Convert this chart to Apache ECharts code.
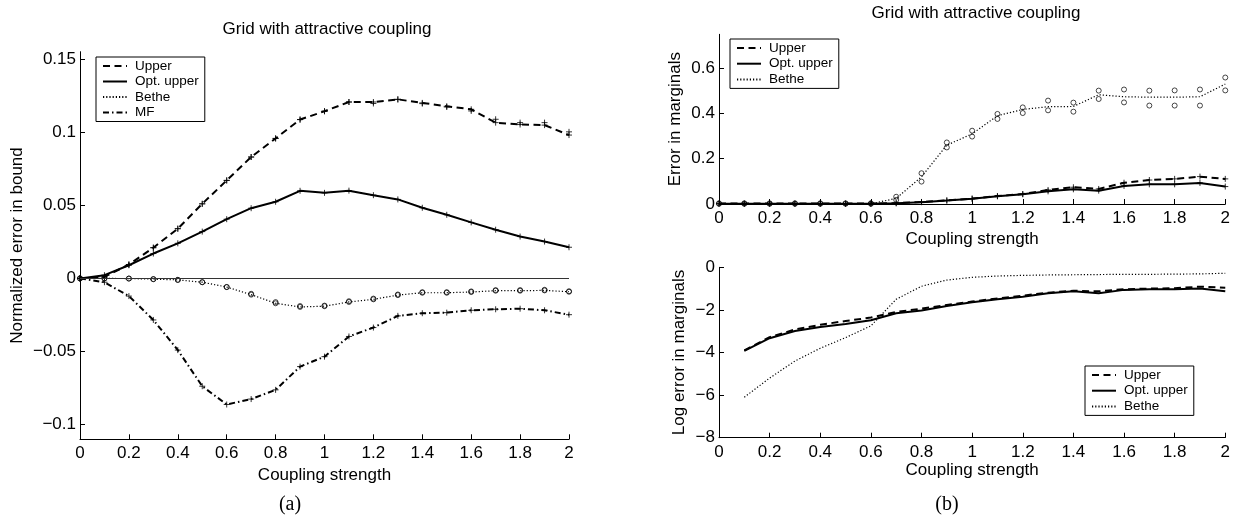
<!DOCTYPE html>
<html>
<head>
<meta charset="utf-8">
<script src="https://cdn.jsdelivr.net/npm/echarts@6/dist/echarts.min.js"></script>
<style>
html,body{margin:0;padding:0;background:#fff;}
#chart{width:1233px;height:523px;}
</style>
</head>
<body>
<div id="chart"></div>
<script>
// ---------- data ----------
var couplings = [0,0.1,0.2,0.3,0.4,0.5,0.6,0.7,0.8,0.9,1.0,1.1,1.2,1.3,1.4,1.5,1.6,1.7,1.8,1.9,2.0];
var couplingsLog = [0.1,0.2,0.3,0.4,0.5,0.6,0.7,0.8,0.9,1.0,1.1,1.2,1.3,1.4,1.5,1.6,1.7,1.8,1.9,2.0];

// (a) normalized error in bound
var aUpper = [0,0.001,0.0095,0.021,0.034,0.051,0.067,0.083,0.0957,0.1086,0.1143,0.1206,0.1206,0.1224,0.12,0.1177,0.1156,0.1065,0.1052,0.1048,0.098];
var aUpperRunB = [0,0.001,0.0095,0.021,0.034,0.051,0.067,0.083,0.0957,0.1086,0.1143,0.1206,0.1196,0.1224,0.1195,0.1172,0.1145,0.1088,0.1065,0.1065,0.1002];
var aOptUpper = [0,0.0022,0.009,0.017,0.024,0.032,0.0405,0.048,0.0524,0.0599,0.0585,0.06,0.0569,0.054,0.0483,0.0435,0.0383,0.0333,0.0286,0.0252,0.0213];
var aBethe = [0,0,-0.0001,-0.0005,-0.001,-0.0026,-0.0059,-0.0111,-0.017,-0.0195,-0.019,-0.0161,-0.0143,-0.0114,-0.0098,-0.0098,-0.0093,-0.0084,-0.0084,-0.0082,-0.0091];
var aBetheRunB = [0,0,-0.0001,-0.0005,-0.001,-0.0026,-0.0059,-0.0105,-0.0162,-0.0189,-0.0186,-0.0156,-0.0138,-0.0110,-0.0094,-0.0094,-0.0089,-0.0080,-0.0080,-0.0078,-0.0088];
var aMF = [0,-0.0026,-0.0121,-0.0284,-0.049,-0.0737,-0.0862,-0.0825,-0.0762,-0.0603,-0.0535,-0.0397,-0.0336,-0.0256,-0.0238,-0.0234,-0.0218,-0.0211,-0.0207,-0.0218,-0.0248];

// (b) top: error in marginals
var bUpper = [0.002,0.002,0.002,0.002,0.002,0.002,0.002,0.004,0.009,0.016,0.024,0.035,0.044,0.062,0.074,0.0665,0.094,0.106,0.111,0.121,0.111];
var bOptUpper = [0.001,0.001,0.001,0.001,0.001,0.001,0.001,0.003,0.008,0.015,0.023,0.034,0.043,0.056,0.065,0.059,0.08,0.087,0.087,0.093,0.077];
var bBethe = [0.001,0.001,0.001,0.001,0.001,0.001,0.001,0.025,0.12,0.26,0.31,0.39,0.418,0.43,0.431,0.483,0.474,0.472,0.472,0.474,0.53];
var bBetheRunA = [0.003,0.003,0.003,0.003,0.003,0.003,0.003,0.032,0.136,0.272,0.324,0.398,0.427,0.457,0.448,0.501,0.506,0.501,0.502,0.506,0.559];
var bBetheRunB = [0.001,0.001,0.001,0.001,0.001,0.001,0.001,0.018,0.099,0.25,0.298,0.376,0.402,0.414,0.408,0.464,0.449,0.435,0.435,0.435,0.502];

// (b) bottom: log error in marginals
var cUpper = [-3.9,-3.28,-2.92,-2.7,-2.52,-2.36,-2.1,-1.94,-1.77,-1.61,-1.46,-1.33,-1.19,-1.1,-1.13,-1.03,-1.0,-0.98,-0.91,-0.96];
var cOptUpper = [-3.92,-3.33,-2.99,-2.8,-2.66,-2.49,-2.16,-2.03,-1.82,-1.64,-1.5,-1.38,-1.22,-1.13,-1.22,-1.06,-1.03,-1.03,-1.0,-1.13];
var cBethe = [-6.1,-5.2,-4.4,-3.8,-3.3,-2.75,-1.5,-0.89,-0.6,-0.47,-0.41,-0.38,-0.36,-0.35,-0.34,-0.33,-0.33,-0.32,-0.31,-0.28];

var xTicks = [0,0.2,0.4,0.6,0.8,1,1.2,1.4,1.6,1.8,2];
var aYTicks = [-0.1,-0.05,0,0.05,0.1,0.15];
var bYTicks = [0,0.2,0.4,0.6];
var cYTicks = [-8,-6,-4,-2,0];

// ---------- helpers ----------
var FONT = 'Liberation Sans, Arial, Helvetica, sans-serif';
var PLUS = 'path://M0,5L10,5M5,0L5,10';
function pairs(xs, ys){ return ys.map(function(y,i){ return [xs[i], y]; }); }
function minusFmt(v){ return String(v).replace('-', '\u2212'); }

function xAxis(gi, nameGap){
  return {
    type:'value', gridIndex:gi, min:0, max:2, interval:0.2,
    name:'Coupling strength', nameLocation:'middle', nameGap:nameGap,
    nameTextStyle:{color:'#000', fontSize:17, fontFamily:FONT},
    axisLine:{show:true, onZero:false, lineStyle:{color:'#000', width:1}},
    axisTick:{show:true, inside:true, length:5, lineStyle:{color:'#000'}},
    axisLabel:{color:'#000', fontSize:17, fontFamily:FONT, margin:6, formatter:minusFmt},
    splitLine:{show:false}
  };
}
function yAxis(gi, min, max, ticks, name, nameGap){
  return {
    type:'value', gridIndex:gi, min:min, max:max,
    name:name, nameLocation:'middle', nameGap:nameGap,
    nameTextStyle:{color:'#000', fontSize:17, fontFamily:FONT},
    axisLine:{show:true, onZero:false, lineStyle:{color:'#000', width:1}},
    axisTick:{show:true, inside:true, length:5, lineStyle:{color:'#000'}, customValues:ticks},
    axisLabel:{color:'#000', fontSize:17, fontFamily:FONT, margin:4, formatter:minusFmt, customValues:ticks},
    splitLine:{show:false}
  };
}
function lineS(name, gi, xs, ys, type, width){
  return {
    type:'line', name:name, xAxisIndex:gi, yAxisIndex:gi, data:pairs(xs, ys),
    symbol:'none', smooth:false, z:3,
    lineStyle:{color:'#000', width:width, type:type},
    itemStyle:{color:'#000'}
  };
}
function markS(name, gi, xs, ys, symbol, size){
  return {
    type:'scatter', name:name, xAxisIndex:gi, yAxisIndex:gi, data:pairs(xs, ys),
    symbol:symbol, symbolSize:size, z:4, silent:true,
    itemStyle:{color:'transparent', borderColor:'#000', borderWidth:symbol === PLUS ? 1 : 0.9}
  };
}

var DASH = [7,4.5];
var DOT = [1.2,2];
var DASHDOT = [6,3,1.5,3];

var upperA = lineS('Upper',0,couplings,aUpper,DASH,2);
upperA.markLine = {silent:true, symbol:'none', label:{show:false},
  lineStyle:{color:'#333', width:1, type:'solid'}, data:[{yAxis:0}]};

var series = [
  upperA,
  lineS('Opt. upper',0,couplings,aOptUpper,'solid',2),
  lineS('Bethe',0,couplings,aBethe,DOT,1.2),
  lineS('MF',0,couplings,aMF,DASHDOT,2),
  markS('Upper runs',0,couplings,aUpper,PLUS,6),
  markS('Upper runs B',0,couplings,aUpperRunB,PLUS,6),
  markS('Opt. upper runs',0,couplings,aOptUpper,PLUS,6),
  markS('Bethe runs',0,couplings,aBethe,'circle',5),
  markS('Bethe runs B',0,couplings,aBetheRunB,'circle',5),
  markS('MF runs',0,couplings,aMF,PLUS,6),

  lineS('Upper',1,couplings,bUpper,DASH,2),
  lineS('Opt. upper',1,couplings,bOptUpper,'solid',2),
  lineS('Bethe',1,couplings,bBethe,DOT,1.2),
  markS('Upper runs (b)',1,couplings,bUpper,PLUS,6),
  markS('Opt. upper runs (b)',1,couplings,bOptUpper,PLUS,6),
  markS('Bethe runs A (b)',1,couplings,bBetheRunA,'circle',5),
  markS('Bethe runs B (b)',1,couplings,bBetheRunB,'circle',5),

  lineS('Upper',2,couplingsLog,cUpper,DASH,2),
  lineS('Opt. upper',2,couplingsLog,cOptUpper,'solid',2),
  lineS('Bethe',2,couplingsLog,cBethe,DOT,1.2)
];

function legend(names, left, top, gap){
  return {
    data:names, orient:'vertical', left:left, top:top,
    itemWidth:24, itemHeight:14, itemGap:gap,
    padding:[2,6,2,6], selectedMode:false,
    borderColor:'#000', borderWidth:1, borderRadius:0, backgroundColor:'#fff',
    itemStyle:{opacity:0},
    textStyle:{color:'#000', fontSize:13.5, fontFamily:FONT, lineHeight:14, padding:[0,0,0,3]}
  };
}

var option = {
  animation:false,
  backgroundColor:'#fff',
  title:[
    {text:'Grid with attractive coupling', left:327, top:21, textAlign:'center', padding:0,
     textStyle:{color:'#000', fontSize:17, fontWeight:'normal', fontFamily:FONT}},
    {text:'Grid with attractive coupling', left:976, top:5, textAlign:'center', padding:0,
     textStyle:{color:'#000', fontSize:17, fontWeight:'normal', fontFamily:FONT}},
    {text:'(a)', left:290, top:495, textAlign:'center', padding:0,
     textStyle:{color:'#000', fontSize:20, fontWeight:'normal', fontFamily:'Liberation Serif, Times New Roman, serif'}},
    {text:'(b)', left:947, top:495, textAlign:'center', padding:0,
     textStyle:{color:'#000', fontSize:20, fontWeight:'normal', fontFamily:'Liberation Serif, Times New Roman, serif'}}
  ],
  legend:[
    legend(['Upper','Opt. upper','Bethe','MF'], 96, 57, 1.5),
    legend(['Upper','Opt. upper','Bethe'], 730, 39, 1.7),
    legend(['Upper','Opt. upper','Bethe'], 1085, 366, 1.7)
  ],
  grid:[
    {left:80, top:51.7, width:489, height:387.6, containLabel:false},
    {left:719, top:34.3, width:506.7, height:169.7, containLabel:false},
    {left:719, top:267.3, width:506.7, height:170.4, containLabel:false}
  ],
  xAxis:[ xAxis(0,21), xAxis(1,27), xAxis(2,22) ],
  yAxis:[
    yAxis(0,-0.11,0.155,aYTicks,'Normalized error in bound',54),
    yAxis(1,0,0.75,bYTicks,'Error in marginals',35),
    yAxis(2,-8,0,cYTicks,'Log error in marginals',31)
  ],
  series:series
};

var chart = echarts.init(document.getElementById('chart'), null, {renderer:'canvas'});
chart.setOption(option);
</script>
</body>
</html>
